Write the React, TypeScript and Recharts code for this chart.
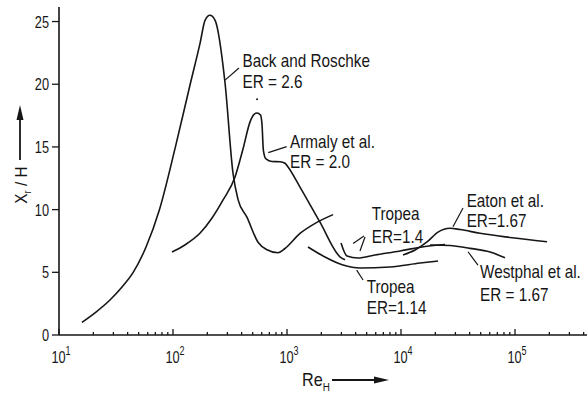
import React from 'react';
import {
  LineChart, Line, XAxis, YAxis, ReferenceLine, ReferenceDot, Customized,
} from 'recharts';

const FONT = '"Liberation Sans", Arimo, sans-serif';
const INK = '#161616';

type Pt = { re: number; xr: number };
const pts = (re: number[], xr: number[]): Pt[] => re.map((r, i) => ({ re: r, xr: xr[i] }));

// Back and Roschke, ER = 2.6
const backRe = [15.9, 21.1, 28, 35.7, 44.6, 58, 75.9, 105, 142, 173, 191, 211, 234, 286, 336, 372, 445, 557, 668, 834, 960, 1300, 1762, 2535];
const backXr = [1.01, 1.83, 2.79, 3.83, 4.97, 7.02, 9.97, 15.0, 20.06, 23.3, 25.1, 25.5, 25.1, 20.1, 12.9, 10.8, 9.4, 7.4, 6.8, 6.56, 6.9, 8.1, 8.9, 9.6];

// Armaly et al., ER = 2.0
const armalyRe = [98, 127, 173, 220, 275, 350, 411, 474, 514, 546, 585, 604, 620, 654, 738, 868, 960, 1021, 1300, 1946, 2915, 3226];
const armalyXr = [6.62, 7.18, 8.13, 9.33, 10.77, 12.6, 14.83, 17.0, 17.6, 17.7, 17.54, 16.75, 14.75, 14.04, 13.84, 13.82, 13.7, 13.4, 11.8, 9.0, 6.24, 6.0];

// Tropea, ER = 1.4
const tropea14Re = [2979, 3359, 4196, 5916, 9795, 16250, 24320];
const tropea14Xr = [7.34, 6.3, 6.14, 6.38, 6.7, 7.06, 7.22];

// Tropea, ER = 1.14
const tropea114Re = [1528, 2153, 3097, 4367, 8008, 14690, 21130];
const tropea114Xr = [7.02, 6.22, 5.58, 5.34, 5.42, 5.74, 5.9];

// Eaton et al., ER = 1.67
const eatonRe = [10420, 13280, 16900, 21130, 26900, 32940, 49330, 90300, 191000];
const eatonXr = [6.38, 6.78, 7.42, 8.21, 8.51, 8.41, 8.11, 7.78, 7.44];

// Westphal et al., ER = 1.67
const westphalRe = [17950, 26900, 40270, 60350, 81700];
const westphalXr = [7.18, 7.14, 6.91, 6.62, 6.16];

const series = [
  pts(backRe, backXr),
  pts(armalyRe, armalyXr),
  pts(tropea14Re, tropea14Xr),
  pts(tropea114Re, tropea114Xr),
  pts(eatonRe, eatonXr),
  pts(westphalRe, westphalXr),
];

// annotation text: anchor (Re, Xr), lines, line gap
const noteRe = [407, 1062, 5535, 37670, 49330, 5001];
const noteXr = [21.37, 14.91, 9.17, 10.21, 4.55, 3.35];
const noteText = [
  ['Back and Roschke', 'ER = 2.6'],
  ['Armaly et al.', 'ER = 2.0'],
  ['Tropea', 'ER=1.4'],
  ['Eaton et al.', 'ER=1.67'],
  ['Westphal et al.', 'ER = 1.67'],
  ['Tropea', 'ER=1.14'],
];
const noteGap = [21, 20, 23, 20, 23, 21];

// leader lines from labels to curves: [Re1, Xr1, Re2, Xr2]
const leaders = [
  [379, 21.29, 286, 20.33],
  [993, 15.02, 685, 14.54],
  [4831, 7.81, 4365, 6.7],
  [4733, 7.89, 3800, 7.3],
  [34990, 10.13, 28570, 8.64],
  [47300, 5.58, 38690, 6.64],
  [4645, 4.39, 4086, 5.18],
];

const yTicks = [0, 5, 10, 15, 20, 25];
const decades = [10, 100, 1000, 10000, 100000];
const xTicks: number[] = [];
decades.forEach((d) => {
  for (let m = 1; m <= 9; m++) if (d * m <= 428000) xTicks.push(d * m);
});

// condensed lettering: Liberation Sans squeezed horizontally
function Narrow({ x, y, sx = 0.85, size = 18, anchor = 'start', children }: any) {
  return (
    <g transform={`translate(${x},${y}) scale(${sx},1)`}>
      <text x={0} y={0} textAnchor={anchor} fontFamily={FONT} fontSize={size} fill={INK}>
        {children}
      </text>
    </g>
  );
}

function XTick({ x, y, payload }: any) {
  const v = payload.value as number;
  const exp = Math.round(Math.log10(v));
  const major = Math.abs(Math.pow(10, exp) - v) < 1e-6 * v;
  return (
    <g>
      <line x1={x} x2={x} y1={y} y2={y - (major ? 6 : 3)} stroke={INK} strokeWidth={1.3} />
      {major && (
        <Narrow x={x + 2} y={y + 28} sx={0.75} size={17} anchor="middle">
          <tspan>10</tspan>
          <tspan dy={-8} fontSize={12}>{exp}</tspan>
        </Narrow>
      )}
    </g>
  );
}

function YTick({ x, y, payload }: any) {
  return (
    <g>
      <line x1={x} x2={x - 7} y1={y} y2={y} stroke={INK} strokeWidth={1.3} />
      <Narrow x={x - 10} y={y + 6} sx={0.75} size={17} anchor="end">
        {payload.value}
      </Narrow>
    </g>
  );
}

function AxisTitles() {
  return (
    <g fill={INK}>
      <g transform="translate(27,185) rotate(-90)">
        <Narrow x={0} y={0} sx={0.9} size={17} anchor="middle">
          X<tspan fontSize={11} dy={4}>r</tspan>
          <tspan dy={-4}> / H</tspan>
        </Narrow>
      </g>
      <line x1={20} x2={20} y1={160} y2={116} stroke={INK} strokeWidth={1.8} />
      <polygon points="20,105 16.5,120 23.5,120" />
      <Narrow x={302} y={386} sx={0.9} size={18}>
        Re<tspan fontSize={11} dy={5}>H</tspan>
      </Narrow>
      <line x1={332} x2={378} y1={380} y2={380} stroke={INK} strokeWidth={1.8} />
      <polygon points="389,380 374,376.5 374,383.5" />
    </g>
  );
}

function Note({ cx, cy, lines, gap }: any) {
  return (
    <Narrow x={cx} y={cy} sx={0.85} size={18}>
      {lines.map((l: string, i: number) => (
        <tspan key={i} x={0} dy={i === 0 ? 0 : gap}>{l}</tspan>
      ))}
    </Narrow>
  );
}

export default function App() {
  return (
    <div style={{ position: 'absolute', left: 0, top: 0, background: '#fff' }}>
      <LineChart width={587} height={394} margin={{ top: 7, right: 0, bottom: 0, left: 19 }}>
        <XAxis
          dataKey="re"
          type="number"
          scale="log"
          domain={[10, 428000]}
          allowDataOverflow
          ticks={xTicks}
          interval={0}
          tick={<XTick />}
          tickLine={false}
          tickSize={0}
          tickMargin={0}
          height={59}
          axisLine={{ stroke: INK, strokeWidth: 1.6 }}
        />
        <YAxis
          type="number"
          domain={[0, 26.16]}
          allowDataOverflow
          ticks={yTicks}
          interval={0}
          tick={<YTick />}
          tickLine={false}
          tickSize={0}
          tickMargin={0}
          width={40}
          axisLine={{ stroke: INK, strokeWidth: 1.6 }}
        />
        {series.map((d, i) => (
          <Line
            key={i}
            data={d}
            dataKey="xr"
            type="monotone"
            stroke={INK}
            strokeWidth={1.6}
            dot={false}
            activeDot={false}
            isAnimationActive={false}
          />
        ))}
        {leaders.map((s, i) => (
          <ReferenceLine
            key={'l' + i}
            segment={[{ x: s[0], y: s[1] }, { x: s[2], y: s[3] }]}
            stroke={INK}
            strokeWidth={1.2}
            ifOverflow="visible"
          />
        ))}
        <ReferenceDot x={546} y={18.8} r={1} fill={INK} stroke="none" ifOverflow="visible" />
        {noteText.map((lines, i) => (
          <ReferenceDot
            key={'n' + i}
            x={noteRe[i]}
            y={noteXr[i]}
            r={0}
            ifOverflow="visible"
            shape={(p: any) => <Note cx={p.cx} cy={p.cy} lines={lines} gap={noteGap[i]} />}
          />
        ))}
        <Customized component={AxisTitles} />
      </LineChart>
    </div>
  );
}
